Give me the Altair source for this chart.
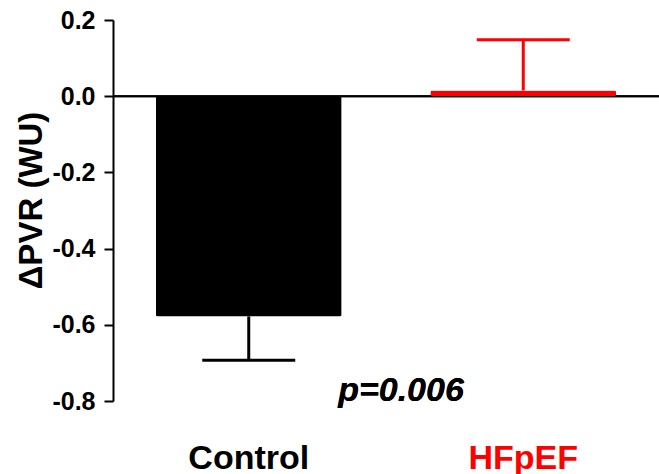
import altair as alt
import pandas as pd

groups = ["Control", "HFpEF"]
means = [-0.578, 0.015]
errors = [0.115, 0.133]
colors = ["#000000", "#ff0000"]
y_ticks = [-0.8, -0.6, -0.4, -0.2, 0.0, 0.2]
p_label = "p=0.006"

ends = [m - e if m < 0 else m + e for m, e in zip(means, errors)]
df = pd.DataFrame({"group": groups, "value": means, "end": ends})

FONT = "Liberation Sans"

x_enc = alt.X(
    "group:N",
    sort=groups,
    scale=alt.Scale(paddingInner=0.323, paddingOuter=0.156),
    axis=alt.Axis(
        title=None, domain=False, ticks=False, tickSize=0, labelAngle=0, grid=False,
        labelFont=FONT, labelFontSize=34, labelFontWeight="bold",
        labelPadding=67, labelBaseline="alphabetic",
        labelColor=alt.expr("datum.value == 'HFpEF' ? '#ff0000' : '#000000'"),
    ),
)
y_scale = alt.Scale(domain=[-0.8, 0.2], nice=False, zero=False)
y_axis = alt.Axis(
    title="ΔPVR (WU)", values=y_ticks,
    labelExpr="datum.value < 0 ? '-' + format(-datum.value, '.1f') : format(datum.value, '.1f')",
    labelFont=FONT, labelFontSize=25, labelFontWeight="bold", labelColor="#000",
    labelPadding=9, tickSize=9, tickWidth=2, tickColor="#000",
    domainColor="#000", domainWidth=2, grid=False,
    titleFont=FONT, titleFontSize=33, titleFontWeight="bold", titleColor="#000",
    titlePadding=3, titleY=180,
)
color_enc = alt.Color("group:N", scale=alt.Scale(domain=groups, range=colors), legend=None)

base = alt.Chart(df)

zero = alt.Chart(df).mark_rule(color="#000", strokeWidth=2, opacity=1).encode(
    y=alt.datum(0, scale=y_scale)
)
bars = base.mark_bar(cornerRadius=2, opacity=1).encode(
    x=x_enc, y=alt.Y("value:Q", scale=y_scale, axis=y_axis), color=color_enc
)
err = base.mark_rule(strokeWidth=3, opacity=1).encode(
    x=x_enc, y=alt.Y("value:Q"), y2="end:Q", color=color_enc
)
caps = base.mark_tick(size=93, thickness=3, opacity=1).encode(
    x=x_enc, y=alt.Y("end:Q"), color=color_enc
)
ptext = alt.Chart(df).mark_text(
    text=p_label, font=FONT, fontSize=34, fontStyle="italic", fontWeight="bold",
    color="#000", baseline="alphabetic", align="center",
).encode(x=alt.value(288), y=alt.datum(-0.8))

chart = alt.layer(zero, bars, err, caps, ptext).properties(
    width=546, height=381,
    background="#ffffff",
    autosize=alt.AutoSizeParams(type="none"),
    padding={"left": 113, "top": 20, "right": 0, "bottom": 73},
).configure_view(stroke=None).configure_axisX(
    domain=False, grid=False, ticks=False
).configure_axisY(
    domainColor="#000000", tickColor="#000000", grid=False
)

chart.save("out.html", embed_options={"renderer": "svg", "actions": False})
